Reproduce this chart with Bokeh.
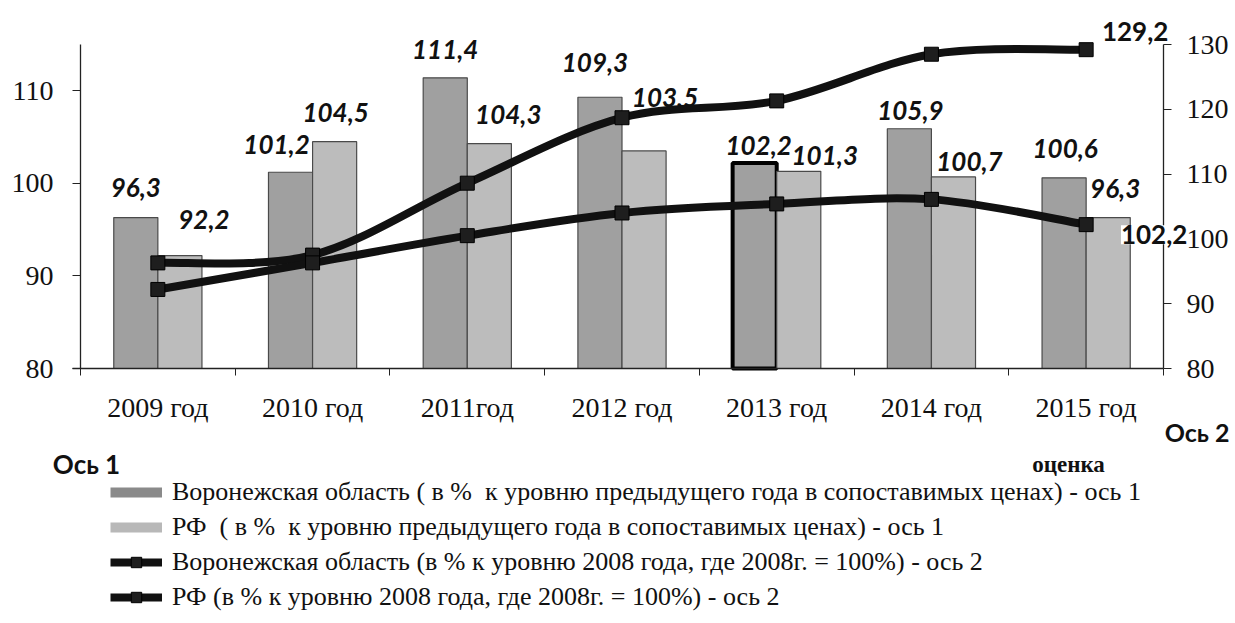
from bokeh.plotting import figure
from bokeh.models import (Range1d, LinearAxis, FixedTicker, ColumnDataSource,
                          LabelSet, Label, Legend, LegendItem)
from bokeh.transform import dodge
from bokeh.core.properties import value
from bokeh.embed import file_html
from bokeh.resources import INLINE

# ---------------- data ----------------
years = ["2009 год", "2010 год", "2011год", "2012 год", "2013 год", "2014 год", "2015 год"]
vrn_bars = [96.3, 101.2, 111.4, 109.3, 102.2, 105.9, 100.6]   # axis 1
rf_bars = [92.2, 104.5, 104.3, 103.5, 101.3, 100.7, 96.3]     # axis 1
vrn_line = [96.3, 97.5, 108.6, 118.7, 121.3, 128.5, 129.2]    # axis 2
rf_line = [92.2, 96.3, 100.5, 104.0, 105.4, 106.1, 102.2]     # axis 2
left_ticks = [80, 90, 100, 110]
right_ticks = [80, 90, 100, 110, 120, 130]

legend_labels = [
    "Воронежская область ( в %  к уровню предыдущего года в сопоставимых ценах) - ось 1",
    "РФ  ( в %  к уровню предыдущего года в сопоставимых ценах) - ось 1",
    "Воронежская область (в % к уровню 2008 года, где 2008г. = 100%) - ось 2",
    "РФ (в % к уровню 2008 года, где 2008г. = 100%) - ось 2",
]

# label offsets (screen px, style only)
vrn_lbl_dx = [0, -14, 0, -5, 4, 1, 1]
vrn_lbl_dy = [30, 28, 28, 35, 17, 18, 29]
rf_lbl_dx = [24, 1, 19, 21, 26, 16, 7]
rf_lbl_dy = [36, 29, 29, 53, 16, 15, 29]
vrn_bar_lw = [1.2, 1.2, 1.2, 1.2, 4, 1.2, 1.2]
vrn_bar_lc = ["#4a4a4a"] * 4 + ["#000000"] + ["#4a4a4a"] * 2

def fmt(v):
    return f"{v:.1f}".replace(".", ",")

n = len(years)
xs = list(range(n))
BW = 0.285
NAN = float("nan")

# ---------------- layout geometry (canvas px) ----------------
W, H = 1232, 620
FL, FR, FT, FB = 80, 1163, 44, 368          # plot-area box inside the canvas
L0, L1 = 80, 115                            # axis 1 span
R0, R1 = 80, 130                            # axis 2 span
UX = (FR - FL) / n
KL = (FB - FT) / (L1 - L0)
KR = (FB - FT) / (R1 - R0)

x_range = Range1d(-0.5 - FL / UX, -0.5 + (W - FL) / UX)
y_range = Range1d(L0 - (H - FB) / KL, L0 + FB / KL)
yr_right = Range1d(R0 - (H - FB) / KR, R0 + FB / KR)

p = figure(width=W, height=H, output_backend="svg", toolbar_location=None,
           x_range=x_range, y_range=y_range, x_axis_type=None, y_axis_type=None,
           min_border=0, min_border_left=0, min_border_right=0,
           min_border_top=0, min_border_bottom=0)
p.extra_y_ranges = {"right": yr_right}
p.outline_line_color = None
p.background_fill_color = "white"
p.border_fill_color = "white"

SERIF = "Liberation Serif"
SANS = "Lato"

# ---------------- bars ----------------
src = ColumnDataSource(dict(x=xs, v=vrn_bars, r=rf_bars, vlw=vrn_bar_lw, vlc=vrn_bar_lc))
p.vbar(x=dodge("x", -BW / 2, range=p.x_range), top="v", bottom=L0, width=BW, source=src,
       fill_color="#a0a0a0", line_color="vlc", line_width="vlw")
p.vbar(x=dodge("x", BW / 2, range=p.x_range), top="r", bottom=L0, width=BW, source=src,
       fill_color="#bcbcbc", line_color="#4a4a4a", line_width=1.2)

# ---------------- smooth lines ----------------
def bezier_source(ys):
    pts = list(zip(xs, ys))
    m = len(pts)
    d = dict(x0=[], y0=[], x1=[], y1=[], cx0=[], cy0=[], cx1=[], cy1=[])
    for i in range(m - 1):
        p0 = pts[max(i - 1, 0)]
        p1 = pts[i]
        p2 = pts[i + 1]
        p3 = pts[min(i + 2, m - 1)]
        d["x0"].append(p1[0]); d["y0"].append(p1[1])
        d["x1"].append(p2[0]); d["y1"].append(p2[1])
        d["cx0"].append(p1[0] + (p2[0] - p0[0]) / 6.0)
        d["cy0"].append(p1[1] + (p2[1] - p0[1]) / 6.0)
        d["cx1"].append(p2[0] - (p3[0] - p1[0]) / 6.0)
        d["cy1"].append(p2[1] - (p3[1] - p1[1]) / 6.0)
    return ColumnDataSource(d)

LINE_W = 8
for ys in (vrn_line, rf_line):
    p.bezier(x0="x0", y0="y0", x1="x1", y1="y1", cx0="cx0", cy0="cy0", cx1="cx1", cy1="cy1",
             source=bezier_source(ys), line_color="#111111", line_width=LINE_W,
             y_range_name="right")

m_vrn = p.scatter(xs, vrn_line, marker="square", size=14, fill_color="#1e1e1e",
                  line_color="#000000", y_range_name="right")
m_rf = p.scatter(xs, rf_line, marker="square", size=14, fill_color="#1e1e1e",
                 line_color="#000000", y_range_name="right")

# ---------------- axes (fixed at the plot-area edges) ----------------
def style_axis(ax, size):
    ax.axis_line_color = "#222222"
    ax.axis_line_width = 1.3
    ax.major_label_text_font = SERIF
    ax.major_label_text_font_size = size
    ax.major_label_text_color = "#111111"
    ax.major_tick_line_color = "#222222"
    ax.minor_tick_line_color = "#222222"

xa = LinearAxis(ticker=FixedTicker(ticks=xs, minor_ticks=[i - 0.5 for i in range(n + 1)]),
                fixed_location=L0, bounds=(-0.55, n - 0.5))
xa.major_label_overrides = {i: years[i] for i in xs}
xa.major_tick_out = 0
xa.major_tick_in = 0
xa.minor_tick_out = 7
xa.minor_tick_in = 0
style_axis(xa, "28px")
xa.major_label_standoff = 16
p.add_layout(xa, "below")

ya = LinearAxis(ticker=FixedTicker(ticks=left_ticks), fixed_location=-0.5, bounds=(L0, L1))
ya.major_tick_out = 8
ya.major_tick_in = 0
ya.minor_tick_out = 0
ya.minor_tick_in = 0
style_axis(ya, "28px")
ya.major_label_standoff = 19
p.add_layout(ya, "left")

ra = LinearAxis(y_range_name="right", ticker=FixedTicker(ticks=right_ticks),
                fixed_location=n - 0.5, bounds=(R0, R1))
ra.major_tick_out = 8
ra.major_tick_in = 0
ra.minor_tick_out = 0
ra.minor_tick_in = 0
style_axis(ra, "28px")
ra.major_label_standoff = 15
p.add_layout(ra, "right")

# ---------------- data labels ----------------
lbl_style = dict(text_font=value(SANS), text_font_style="bold italic", text_font_size="26px",
                 text_align="center", text_baseline="middle", text_color="#111111")
vsrc = ColumnDataSource(dict(x=[i - BW / 2 for i in xs], y=vrn_bars,
                             t=[fmt(v) for v in vrn_bars], dx=vrn_lbl_dx, dy=vrn_lbl_dy))
rsrc = ColumnDataSource(dict(x=[i + BW / 2 for i in xs], y=rf_bars,
                             t=[fmt(v) for v in rf_bars], dx=rf_lbl_dx, dy=rf_lbl_dy))
p.add_layout(LabelSet(x="x", y="y", text="t", x_offset="dx", y_offset="dy", source=vsrc, **lbl_style))
p.add_layout(LabelSet(x="x", y="y", text="t", x_offset="dx", y_offset="dy", source=rsrc, **lbl_style))

line_lbl_style = dict(text_font=SANS, text_font_style="bold", text_font_size="26px",
                      text_align="center", text_baseline="middle", text_color="#111111")
p.add_layout(Label(x=xs[-1], y=vrn_line[-1], y_range_name="right", x_offset=49, y_offset=18,
                   text=fmt(vrn_line[-1]), **line_lbl_style))
p.add_layout(Label(x=xs[-1], y=rf_line[-1], y_range_name="right", x_offset=68, y_offset=-10,
                   text=fmt(rf_line[-1]), background_fill_color="white",
                   **line_lbl_style))

# ---------------- axis titles placed as in reference (canvas px -> data) ----------------
def dxp(px):
    return -0.5 + (px - FL) / UX

def dyp(py):
    return L0 + (FB - py) / KL

p.add_layout(Label(x=dxp(86), y=dyp(463), text="Ось 1", text_font=SANS,
                   text_font_style="bold", text_font_size="26px", text_align="center",
                   text_baseline="middle", text_color="#111111"))
p.add_layout(Label(x=dxp(1229), y=dyp(431), text="Ось 2", text_font=SANS,
                   text_font_style="bold", text_font_size="25px", text_align="right",
                   text_baseline="middle", text_color="#111111"))
p.add_layout(Label(x=dxp(1068), y=dyp(464), text="оценка", text_font=SERIF,
                   text_font_style="bold", text_font_size="23px", text_align="center",
                   text_baseline="middle", text_color="#111111"))

# ---------------- legend ----------------
lg_v = p.line(x=[NAN, NAN], y=[NAN, NAN], line_color="#8a8a8a", line_width=10)
lg_r = p.line(x=[NAN, NAN], y=[NAN, NAN], line_color="#b8b8b8", line_width=10)
lg_lv = p.line(x=[NAN, NAN], y=[NAN, NAN], line_color="#111111", line_width=8)
lg_lr = p.line(x=[NAN, NAN], y=[NAN, NAN], line_color="#111111", line_width=8)

legend = Legend(items=[
    LegendItem(label=legend_labels[0], renderers=[lg_v]),
    LegendItem(label=legend_labels[1], renderers=[lg_r]),
    LegendItem(label=legend_labels[2], renderers=[lg_lv, m_vrn]),
    LegendItem(label=legend_labels[3], renderers=[lg_lr, m_rf]),
], location=(110, 8), orientation="vertical", background_fill_alpha=0,
    border_line_color=None, padding=0, margin=0, spacing=5,
    glyph_width=52, glyph_height=26, label_height=26, label_standoff=10,
    label_text_font=SERIF, label_text_font_size="26px", label_text_color="#111111")
p.add_layout(legend)

open("out.html", "w").write(file_html(p, INLINE))
